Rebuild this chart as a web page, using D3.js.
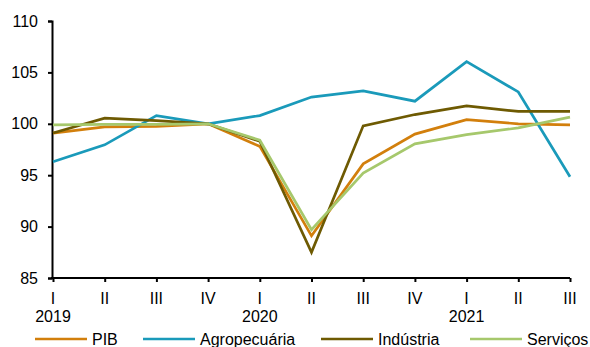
<!DOCTYPE html>
<html>
<head>
<meta charset="utf-8">
<script src="https://cdn.jsdelivr.net/npm/d3@7"></script>
<style>
  html, body { margin: 0; padding: 0; background: #fff; }
  svg { display: block; font-family: "Liberation Sans", Arial, sans-serif; }
</style>
</head>
<body>
<svg id="chart" width="590" height="347"></svg>
<script>
// Quarters 2019.I – 2021.III
const quarters = ["I", "II", "III", "IV", "I", "II", "III", "IV", "I", "II", "III"];
const years = ["2019", "", "", "", "2020", "", "", "", "2021", "", ""];

const pib        = [99.1, 99.7, 99.75, 100, 97.8, 89.1, 96.1, 99.0, 100.4, 100.0, 99.9];
const agro       = [96.3, 97.95, 100.8, 100, 100.8, 102.6, 103.2, 102.2, 106.05, 103.1, 94.85];
const industria  = [99.1, 100.55, 100.3, 100, 98.3, 87.5, 99.8, 100.9, 101.75, 101.2, 101.2];
const servicos   = [99.9, 99.95, 99.95, 100, 98.4, 89.7, 95.2, 98.05, 98.95, 99.6, 100.65];

const yTicks = [85, 90, 95, 100, 105, 110];

const series = [
  { name: "PIB",          values: pib,       color: "#D27F0C" },
  { name: "Agropecuária", values: agro,      color: "#1A9ABA" },
  { name: "Indústria",    values: industria, color: "#6E5A02" },
  { name: "Serviços",     values: servicos,  color: "#A6C86C" }
];

const svg = d3.select("#chart");
const margin = { left: 53, right: 20, top: 21, bottom: 69 };
const W = 590, H = 347;
const FONT = 16;

const x = d3.scaleLinear().domain([0, quarters.length - 1]).range([margin.left, W - margin.right]);
const y = d3.scaleLinear().domain([85, 110]).range([H - margin.bottom, margin.top]);

// Y axis
const yAxis = svg.append("g")
  .attr("transform", `translate(${margin.left - 1},0)`)
  .call(d3.axisLeft(y).tickValues(yTicks).tickSize(4).tickPadding(10));
yAxis.select(".domain").attr("stroke", "#000").attr("stroke-width", 2);
yAxis.selectAll(".tick line").attr("stroke", "#000").attr("stroke-width", 2);
yAxis.selectAll("text").attr("font-size", FONT).attr("fill", "#000")
  .attr("font-family", "Liberation Sans, Arial, sans-serif");

// X axis
const xAxis = svg.append("g")
  .attr("transform", `translate(0,${y(85)})`)
  .call(d3.axisBottom(x).tickValues(d3.range(quarters.length)).tickSize(4).tickFormat(() => ""));
xAxis.select(".domain").attr("stroke", "#000").attr("stroke-width", 2).attr("d", `M${margin.left - 2},0H${W - margin.right}`);
xAxis.selectAll(".tick line").attr("stroke", "#000").attr("stroke-width", 2);

const labels = svg.append("g");
labels.selectAll("text.q").data(quarters).join("text")
  .attr("class", "q")
  .attr("x", (d, i) => x(i))
  .attr("y", 304)
  .attr("text-anchor", "middle")
  .attr("font-size", FONT)
  .text(d => d);
labels.selectAll("text.yr").data(years).join("text")
  .attr("class", "yr")
  .attr("x", (d, i) => x(i))
  .attr("y", 322)
  .attr("text-anchor", "middle")
  .attr("font-size", FONT)
  .text(d => d);

// Lines
const line = d3.line().x((d, i) => x(i)).y(d => y(d));
svg.append("g").selectAll("path").data(series).join("path")
  .attr("d", d => line(d.values))
  .attr("fill", "none")
  .attr("stroke", d => d.color)
  .attr("stroke-width", 2.7)
  .attr("stroke-linejoin", "miter");

// Legend
const legendX = [35, 143, 321, 470];
const leg = svg.append("g");
series.forEach((s, i) => {
  const g = leg.append("g").attr("transform", `translate(${legendX[i]},339)`);
  g.append("line").attr("x1", 0).attr("x2", 52).attr("y1", 0).attr("y2", 0)
    .attr("stroke", s.color).attr("stroke-width", 2.7);
  g.append("text").attr("x", 57).attr("y", 6).attr("font-size", FONT).text(s.name);
});
</script>
</body>
</html>
